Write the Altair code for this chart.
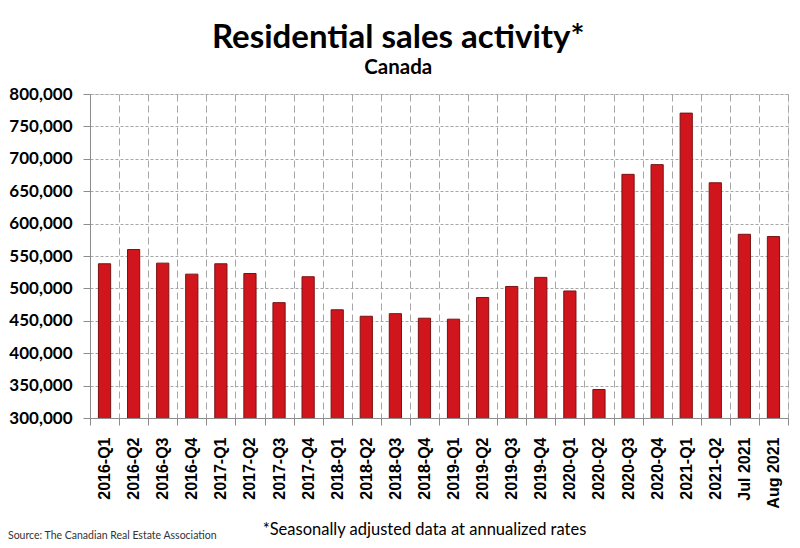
import altair as alt
import pandas as pd

periods = ["2016-Q1", "2016-Q2", "2016-Q3", "2016-Q4", "2017-Q1", "2017-Q2", "2017-Q3", "2017-Q4",
           "2018-Q1", "2018-Q2", "2018-Q3", "2018-Q4", "2019-Q1", "2019-Q2", "2019-Q3", "2019-Q4",
           "2020-Q1", "2020-Q2", "2020-Q3", "2020-Q4", "2021-Q1", "2021-Q2", "Jul 2021", "Aug 2021"]
sales = [538000, 560000, 539000, 522000, 538000, 523000, 478000, 518000,
         467000, 457000, 461000, 454000, 452500, 486000, 503000, 517000,
         496000, 344000, 676000, 691000, 770500, 663000, 583500, 580000]
y_ticks = [300000, 350000, 400000, 450000, 500000, 550000, 600000, 650000, 700000, 750000, 800000]

title_text = "Residential sales activity*"
subtitle_text = "Canada"
footnote_text = "*Seasonally adjusted data at annualized rates"
source_text = "Source: The Canadian Real Estate Association"

df = pd.DataFrame({"period": periods, "sales": sales})
src = pd.DataFrame({"label": [source_text]})

GRID = "#a6a6a6"
AXIS = "#8c8c8c"

bars = alt.Chart(df).mark_bar(
    width=alt.RelativeBandSize(0.42),
    color="#d0161c",
    stroke="#7a1212",
    strokeWidth=1,
    clip=True,
).encode(
    x=alt.X(
        "period:N",
        sort=periods,
        scale=alt.Scale(paddingInner=0, paddingOuter=0),
        axis=alt.Axis(
            title=footnote_text,
            titleFont="Lato",
            titleFontSize=16.5,
            titleFontWeight="normal",
            titleColor="black",
            titleX=334,
            titlePadding=13,
            labelAngle=270,
            labelFont="Liberation Sans",
            labelFontWeight="bold",
            labelFontSize=16,
            labelColor="black",
            labelPadding=12,
            tickBand="extent",
            tickSize=7,
            tickColor=AXIS,
            domainColor=AXIS,
            grid=True,
            gridColor=GRID,
            gridDash=[7, 4],
            gridWidth=1,
        ),
    ),
    y=alt.Y(
        "sales:Q",
        scale=alt.Scale(domain=[300000, 800000], nice=False, zero=False),
        axis=alt.Axis(
            title=None,
            values=y_ticks,
            format=",d",
            labelFont="Lato",
            labelFontWeight="bold",
            labelFontSize=17,
            labelColor="black",
            labelPadding=11,
            tickSize=7,
            tickColor=AXIS,
            domainColor=AXIS,
            grid=True,
            gridColor=GRID,
            gridDash=[3, 2],
            gridWidth=1,
        ),
    ),
)

source = alt.Chart(src).mark_text(
    align="left", baseline="alphabetic", font="Lato", fontSize=10.5, color="#333333"
).encode(
    text="label:N",
    x=alt.value(-82),
    y=alt.value(445),
)

chart = alt.layer(bars, source).properties(
    width=698,
    height=324,
    autosize=alt.AutoSizeParams(type="none"),
    padding={"left": 82, "top": 86, "right": 4, "bottom": 122},
    title=alt.TitleParams(
        text=title_text,
        subtitle=subtitle_text,
        font="Lato",
        fontSize=33,
        fontWeight="bold",
        color="black",
        subtitleFont="Lato",
        subtitleFontSize=20.5,
        subtitleFontWeight="bold",
        subtitleColor="black",
        subtitlePadding=3,
        anchor="middle",
        frame="bounds",
        offset=7,
    ),
).configure_view(
    stroke=AXIS,
    strokeWidth=1,
).configure(background="white")

chart.save("out.html", embed_options={"renderer": "svg", "actions": False})
